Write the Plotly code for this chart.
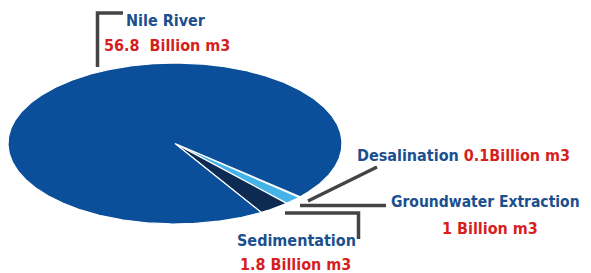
import numpy as np
import plotly.graph_objects as go

# ---- data ----
categories = ["Desalination", "Groundwater Extraction", "Sedimentation", "Nile River"]
values = [0.1, 1, 1.8, 56.8]
value_labels = ["0.1Billion m3", "1 Billion m3", "1.8 Billion m3", "56.8  Billion m3"]
colors = ["#3f86cc", "#45b3e7", "#0c2a52", "#0b4f9a"]

W, H = 591, 273
OFF = 8  # default page body margin
cx, cy, ra, rb = 175, 143.5, 167, 80.5
t0 = 41.4  # start angle (deg), clockwise on screen

fig = go.Figure()
total = sum(values)
start = t0
for cat, v, col in zip(categories, values, colors):
    span = v / total * 360.0
    t = np.radians(np.linspace(start, start + span, max(4, int(span * 2))))
    xs = np.concatenate([[cx], cx + ra * np.cos(t), [cx]])
    ys = np.concatenate([[cy], cy + rb * np.sin(t), [cy]])
    fig.add_trace(go.Scatter(x=xs, y=ys, mode="lines", fill="toself",
                             fillcolor=col, line=dict(color="white", width=1.2),
                             hoverinfo="skip", showlegend=False, name=cat))
    start += span

BLUE = "#1b4f8e"
RED = "#d61f1f"
FONT = "Liberation Sans Narrow, DejaVu Sans Condensed, Arial Narrow, sans-serif"
FS = 16

def ann(x, y, text, color, xanchor="center", size=FS):
    fig.add_annotation(x=x, y=y, xref="x", yref="y", text="<b>" + text + "</b>",
                       showarrow=False, xanchor=xanchor, yanchor="middle",
                       font=dict(family=FONT, size=size, color=color))

ann(166, 20, categories[3], BLUE)
ann(167, 45, value_labels[3], RED)
fig.add_annotation(x=355, y=155, xref="x", yref="y", xanchor="left", yanchor="middle",
                   showarrow=False,
                   text="<b>" + categories[0] + " <span style='color:%s'>" % RED + value_labels[0] + "</span></b>",
                   font=dict(family=FONT, size=FS, color=BLUE))
ann(485, 202, categories[1], BLUE, size=15.5)
ann(490, 228, value_labels[1], RED)
ann(296, 240, categories[2], BLUE)
ann(295, 264, value_labels[2], RED)

LC = "#444444"
LW = 3.5
fig.add_shape(type="path", path="M 123 13 L 97.5 13 L 97.5 67", xref="x", yref="y",
              line=dict(color=LC, width=LW))
fig.add_shape(type="line", x0=308, y0=201, x1=377, y1=167, xref="x", yref="y",
              line=dict(color=LC, width=LW))
fig.add_shape(type="line", x0=300, y0=205.5, x1=386, y1=205.5, xref="x", yref="y",
              line=dict(color=LC, width=LW))
fig.add_shape(type="path", path="M 285 213 L 358.5 213 L 358.5 239", xref="x", yref="y",
              line=dict(color=LC, width=LW))

fig.update_layout(width=W - OFF, height=H - OFF, margin=dict(l=0, r=0, t=0, b=0),
                  paper_bgcolor="white", plot_bgcolor="white", showlegend=False)
fig.update_xaxes(range=[OFF, W], visible=False, fixedrange=True)
fig.update_yaxes(range=[H, OFF], visible=False, fixedrange=True)
fig.write_html("out.html")
